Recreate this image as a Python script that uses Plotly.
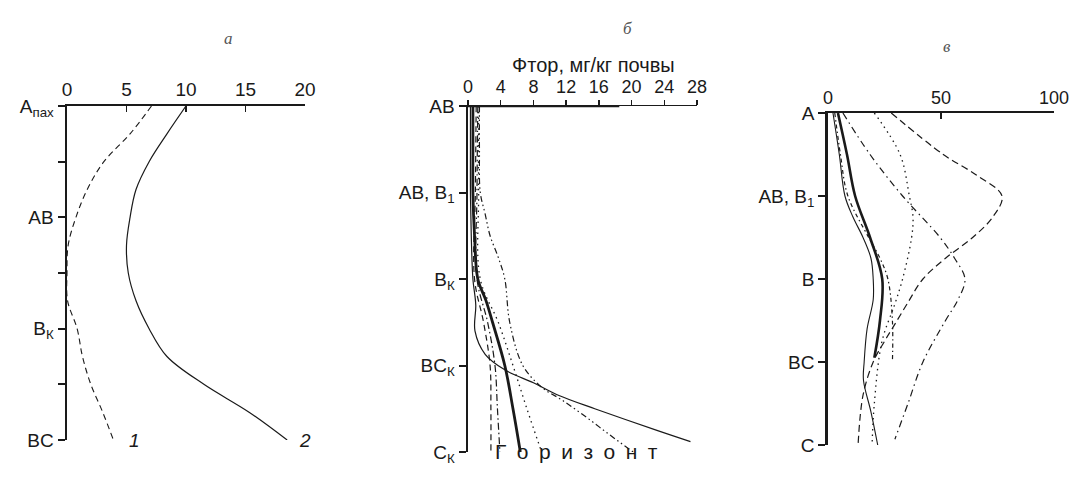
import plotly.graph_objects as go

# ---------------- Panel a ----------------
a_depth = [0, 0.5, 1, 1.5, 2, 2.5, 3, 3.5, 4, 4.5, 5, 5.5, 6]
a_curve1 = [7.1, 5.3, 3.1, 1.7, 0.75, 0.1, 0.0, 0.05, 0.85, 1.3, 2.0, 3.0, 3.9]
a_curve2 = [10.0, 8.4, 6.9, 5.8, 5.3, 5.0, 5.15, 5.8, 6.9, 8.4, 11.5, 15.3, 18.5]
a_ticks = [0, 5, 10, 15, 20]
a_horizons = ["A<sub>пах</sub>", "", "AB", "", "B<sub>К</sub>", "", "BC"]

# ---------------- Panel б ----------------
b_thick_depth = [0, 0.5, 1, 1.5, 2, 2.25, 2.5, 3, 3.5, 4]
b_thick = [0.6, 0.6, 0.6, 0.8, 1.2, 2.2, 3.0, 4.5, 5.5, 6.4]
b_thin_depth = [0, 0.5, 1, 1.5, 2, 2.3, 2.6, 2.87, 3.05, 3.2, 3.35, 3.5, 3.75, 3.88]
b_thin = [0.3, 0.3, 0.3, 0.4, 0.6, 0.95, 0.85, 2.1, 4.5, 8.0, 11.2, 15.5, 23.1, 27.2]
b_dd_depth = [0, 0.5, 1, 1.25, 1.5, 1.75, 2, 2.5, 3, 3.25, 3.4, 3.6, 3.8, 4]
b_dashdotdot = [1.4, 1.4, 1.5, 2.1, 2.7, 3.7, 4.5, 5.1, 6.7, 9.0, 11.5, 14.5, 17.3, 20.2]
b_dot_depth = [0, 1, 2, 2.5, 3, 3.5, 4]
b_dotted = [1.3, 1.3, 1.5, 3.7, 5.5, 7.2, 9.0]
b_dash_depth = [0, 1, 2, 2.5, 3, 3.5, 4]
b_dashed = [1.0, 0.9, 0.8, 1.9, 2.7, 2.8, 2.8]
b_dashdot = [1.2, 1.1, 1.1, 2.4, 3.3, 3.6, 3.9]
b_ticks = [0, 4, 8, 12, 16, 20, 24, 28]
b_horizons = ["AB", "AB, B<sub>1</sub>", "B<sub>К</sub>", "BC<sub>К</sub>", "C<sub>К</sub>"]

# ---------------- Panel в ----------------
c_thick_depth = [0, 0.5, 1, 1.5, 2, 2.5, 2.95]
c_thick = [4.4, 8.4, 12.0, 18.6, 24.0, 23.0, 20.5]
c_thin_depth = [0, 0.5, 1, 1.25, 1.5, 1.75, 2, 2.25, 2.6, 3, 3.22, 3.6, 4]
c_thin = [2.2, 5.0, 7.5, 11.0, 15.5, 19.0, 20.0, 20.0, 17.3, 16.0, 15.7, 19.0, 22.0]
c_dash_depth = [0, 0.5, 0.75, 1, 1.25, 1.5, 1.75, 2, 2.3, 2.58, 2.75, 3, 3.4, 4]
c_dashed = [28, 51, 65.8, 77, 73, 64, 52, 42, 35, 28.8, 25, 20, 15.5, 13.3]
c_dd_depth = [0, 0.5, 1, 1.5, 1.75, 2, 2.25, 2.5, 3, 3.5, 3.93]
c_dashdot = [6.6, 18.6, 33, 49.6, 56, 60.6, 57.5, 52, 42, 35.4, 29.6]
c_dot_depth = [0, 0.5, 1, 1.25, 1.5, 2, 2.3, 2.75, 3.5, 4]
c_dotted = [20.5, 31.9, 36, 37.6, 37, 33, 29.6, 23.9, 20.5, 19.5]
c_dot2_depth = [0, 0.5, 1, 1.5, 1.75, 2, 2.5, 3]
c_dotted2 = [3, 5.5, 8.8, 18, 23, 26.5, 28.5, 28.5]
c_ticks = [0, 50, 100]
c_horizons = ["A", "AB, B<sub>1</sub>", "B", "BC", "C"]

W, H = 1071, 485
BLACK = "#1a1a1a"
FONT = "Liberation Sans, Arial, sans-serif"

fig = go.Figure()

def add(x, y, xa, ya, width=1.1, dash="solid"):
    fig.add_trace(go.Scatter(x=x, y=y, xaxis=xa, yaxis=ya, mode="lines",
                             line=dict(color=BLACK, width=width, dash=dash, shape="spline", smoothing=1.0),
                             hoverinfo="skip"))

# Panel a
add(a_curve1, a_depth, "x", "y", 1.1, "6px,4px")
add(a_curve2, a_depth, "x", "y", 1.2, "solid")

# Panel б
add(b_thin, b_thin_depth, "x2", "y2", 1.2, "solid")
add(b_thick, b_thick_depth, "x2", "y2", 2.8, "solid")
add(b_dashdotdot, b_dd_depth, "x2", "y2", 1.2, "6px,3px,1.5px,3px,1.5px,3px")
add(b_dotted, b_dot_depth, "x2", "y2", 1.3, "1.5px,4px")
add(b_dashed, b_dash_depth, "x2", "y2", 1.2, "6px,4px")
add(b_dashdot, b_dash_depth, "x2", "y2", 1.2, "7px,3px,1.5px,3px")

# Panel в
add(c_thin, c_thin_depth, "x3", "y3", 1.1, "solid")
add(c_thick, c_thick_depth, "x3", "y3", 2.6, "solid")
add(c_dashed, c_dash_depth, "x3", "y3", 1.2, "7px,4px")
add(c_dashdot, c_dd_depth, "x3", "y3", 1.2, "7px,4px,1.5px,4px")
add(c_dotted, c_dot_depth, "x3", "y3", 1.3, "1.5px,4px")
add(c_dotted2, c_dot2_depth, "x3", "y3", 1.2, "4px,3px,1.5px,3px")

def px_x(p):
    return p / W

def px_y(p):
    return 1 - p / H

xcommon = dict(side="top", showline=True, linecolor=BLACK, showgrid=False, zeroline=False,
               automargin=False, tickcolor=BLACK, fixedrange=True)
ycommon = dict(showline=True, linecolor=BLACK, showgrid=False, zeroline=False, automargin=False,
               ticks="outside", ticklen=7, tickwidth=2, tickcolor=BLACK,
               tickfont=dict(family=FONT, size=19, color=BLACK), fixedrange=True)

fig.update_layout(
    template="none",
    width=W, height=H, margin=dict(l=0, r=0, t=0, b=0, pad=0, autoexpand=False),
    paper_bgcolor="white", plot_bgcolor="white", showlegend=False,
    xaxis=dict(**xcommon, domain=[px_x(67), px_x(305)], range=[0, 20], anchor="y",
               tickfont=dict(family=FONT, size=19, color=BLACK),
               tickvals=a_ticks, ticks="inside", ticklen=6, tickwidth=1.5, linewidth=2.2),
    yaxis=dict(**ycommon, domain=[px_y(440), px_y(106)], range=[6, 0], anchor="x",
               tickvals=list(range(7)), ticktext=a_horizons, linewidth=2.5),
    xaxis2=dict(**xcommon, domain=[px_x(468), px_x(697)], range=[0, 28], anchor="y2",
                tickfont=dict(family=FONT, size=18, color=BLACK),
                tickvals=b_ticks, ticks="outside", ticklen=5, tickwidth=1.5, linewidth=1.3),
    yaxis2=dict(**ycommon, domain=[px_y(452), px_y(106)], range=[4, 0], anchor="x2",
                tickvals=list(range(5)), ticktext=b_horizons, linewidth=2.5),
    xaxis3=dict(**xcommon, domain=[px_x(828), px_x(1054)], range=[0, 100], anchor="y3",
                tickfont=dict(family=FONT, size=18, color=BLACK),
                tickvals=c_ticks, ticks="inside", ticklen=6, tickwidth=1.5, linewidth=1.6),
    yaxis3=dict(**ycommon, domain=[px_y(445), px_y(113)], range=[4, 0], anchor="x3",
                tickvals=list(range(5)), ticktext=c_horizons, linewidth=2.8),
)

# thick first part of the б top axis
fig.add_shape(type="line", xref="x2", yref="y2", x0=0, x1=18.5, y0=0, y1=0,
              line=dict(color=BLACK, width=2.6))

ann_font = dict(family="Liberation Serif, serif", size=17, color="#555555")
fig.add_annotation(x=px_x(222), y=px_y(27), xref="paper", yref="paper", text="<i>a</i>",
                   showarrow=False, font=ann_font)
fig.add_annotation(x=px_x(627), y=px_y(17), xref="paper", yref="paper", text="<i>б</i>",
                   showarrow=False, font=ann_font)
fig.add_annotation(x=px_x(953), y=px_y(35), xref="paper", yref="paper", text="<i>в</i>",
                   showarrow=False, font=ann_font)

fig.add_annotation(x=px_x(593), y=px_y(52), xref="paper", yref="paper",
                   text="Фтор, мг/кг почвы", showarrow=False,
                   font=dict(family=FONT, size=20, color=BLACK))
fig.add_annotation(x=px_x(576), y=px_y(465), xref="paper", yref="paper",
                   text="\u2002".join("Горизонт"), showarrow=False,
                   font=dict(family=FONT, size=21, color=BLACK))

# curve labels in panel a
fig.add_annotation(x=5.0, y=6, xref="x", yref="y", text="<i>1</i>", showarrow=False,
                   xanchor="left", font=dict(family=FONT, size=19, color=BLACK))
fig.add_annotation(x=19.3, y=6, xref="x", yref="y", text="<i>2</i>", showarrow=False,
                   xanchor="left", font=dict(family=FONT, size=19, color=BLACK))

fig.write_html("out.html",
               config={"displayModeBar": False, "staticPlot": True},
               post_script="document.body.style.margin='0px';document.body.style.overflow='hidden';")
